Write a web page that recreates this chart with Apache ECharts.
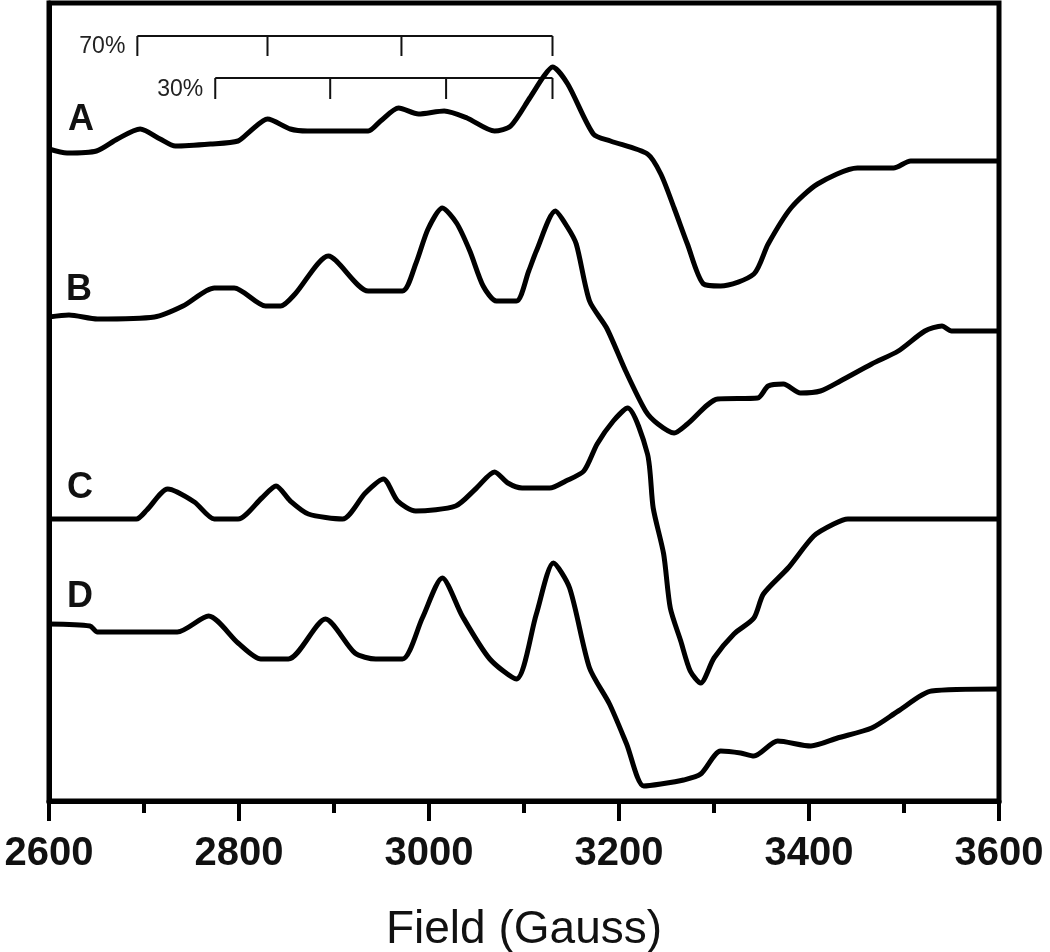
<!DOCTYPE html>
<html>
<head>
<meta charset="utf-8">
<script src="https://cdn.jsdelivr.net/npm/echarts@6/dist/echarts.min.js"></script>
<style>
html,body{margin:0;padding:0;background:#fff;}
#chart{width:1050px;height:952px;}
</style>
</head>
<body>
<div id="chart"></div>
<script>
// Field values (Gauss) and relative intensities (arbitrary units, offset per trace)
const traceA = [[2600,652],[2619,648],[2650,650],[2672,662],[2696,672],[2717,662],[2733,655],[2770,657],[2799,660],[2812,670],[2830,682],[2854,672],[2872,670],[2936,670],[2949,680],[2968,693],[2989,687],[3016,690],[3040,683],[3069,670],[3086,675],[3106,703],[3121,725],[3130,734],[3146,717],[3173,667],[3191,660],[3230,647],[3244,627],[3258,593],[3272,557],[3289,517],[3307,515],[3342,527],[3357,557],[3381,593],[3409,617],[3451,633],[3489,633],[3507,640],[3600,640]];
const traceB = [[2600,484],[2621,486],[2651,482],[2711,484],[2741,495],[2774,513],[2795,513],[2828,495],[2844,495],[2859,507],[2894,545],[2936,510],[2972,510],[2986,537],[2999,572],[3014,593],[3029,578],[3043,550],[3057,515],[3071,500],[3092,500],[3105,530],[3113,550],[3133,590],[3145,575],[3155,557],[3169,500],[3187,473],[3207,430],[3228,390],[3241,377],[3258,368],[3272,377],[3304,402],[3346,403],[3357,415],[3373,417],[3391,408],[3412,410],[3433,420],[3466,437],[3494,450],[3522,470],[3540,475],[3550,470],[3600,470]];
const traceC = [[2600,282],[2692,282],[2703,291],[2725,312],[2753,299],[2774,282],[2799,282],[2824,303],[2839,315],[2854,300],[2873,287],[2909,282],[2933,308],[2952,322],[2967,300],[2986,290],[3028,295],[3049,312],[3069,329],[3083,318],[3098,313],[3127,313],[3144,320],[3163,330],[3177,357],[3194,380],[3209,393],[3230,347],[3236,293],[3247,247],[3254,193],[3265,160],[3275,130],[3286,118],[3300,143],[3321,167],[3342,183],[3352,207],[3378,233],[3405,265],[3426,277],[3441,282],[3600,282]];
const traceD = [[2600,177],[2643,175],[2651,169],[2735,169],[2768,185],[2799,158],[2823,142],[2852,142],[2891,182],[2922,148],[2944,142],[2972,142],[2993,183],[3014,223],[3035,185],[3064,142],[3092,122],[3113,187],[3131,238],[3148,213],[3169,133],[3190,97],[3208,57],[3226,15],[3244,17],[3268,21],[3286,27],[3307,50],[3328,48],[3342,45],[3367,60],[3402,55],[3430,63],[3466,73],[3494,90],[3529,110],[3600,112]];
const traceNames = ['A','B','C','D'];

// Hyperfine splitting stick diagrams
const bracket70 = [2693, 2830, 2971, 3130];
const bracket30 = [2775, 2896, 3018, 3130];
const bracketLabels = ['70%', '30%'];
const bracketTop = [765, 723];
const bracketBottom = [745, 702];

const xTicks = [2600, 2800, 3000, 3200, 3400, 3600];
const xName = 'Field (Gauss)';

function bracketData(pos, top, bottom) {
  const d = [[pos[0], top], [pos[pos.length-1], top], null];
  pos.forEach(p => { d.push([p, top], [p, bottom], null); });
  return d;
}

const FONT = '"Liberation Sans", Arial, sans-serif';
const chart = echarts.init(document.getElementById('chart'), null, {renderer: 'canvas'});

const lineSeries = [traceA, traceB, traceC, traceD].map((d, i) => ({
  name: traceNames[i], type: 'line', data: d, symbol: 'none', smooth: 0.25,
  lineStyle: {color: '#000', width: 5}, animation: false, z: 3
}));
const brSeries = [bracket70, bracket30].map((p, i) => ({
  name: bracketLabels[i], type: 'line', data: bracketData(p, bracketTop[i], bracketBottom[i]),
  symbol: 'none', connectNulls: false, lineStyle: {color: '#111', width: 2}, animation: false, z: 2
}));

chart.setOption({
  backgroundColor: '#fff',
  animation: false,
  grid: {left: 49, right: 51, top: 3, bottom: 151, show: true, borderColor: '#000', borderWidth: 5,
    outerBoundsMode: 'none', containLabel: false},
  xAxis: {
    type: 'value', min: xTicks[0], max: xTicks[xTicks.length-1], interval: 200,
    name: xName, nameLocation: 'middle', nameGap: 106,
    nameTextStyle: {fontFamily: FONT, fontSize: 46, color: '#111'},
    axisLine: {lineStyle: {color: '#000', width: 5}},
    axisTick: {length: 20, lineStyle: {color: '#000', width: 4}},
    minorTick: {show: true, splitNumber: 2, length: 12, lineStyle: {color: '#000', width: 4}},
    splitLine: {show: false},
    axisLabel: {fontFamily: FONT, fontSize: 40, fontWeight: 'bold', color: '#111', margin: 33,
      formatter: v => String(v)}
  },
  yAxis: {
    type: 'value', min: 0, max: 798,
    axisLine: {show: true, lineStyle: {color: '#000', width: 5}},
    axisTick: {show: false}, axisLabel: {show: false}, splitLine: {show: false}
  },
  series: lineSeries.concat(brSeries)
});

// text annotations
const labelPix = [[81,120],[79,290],[80,488],[80,597]];
const g = traceNames.map((t, i) => ({
  type: 'text', x: labelPix[i][0], y: labelPix[i][1],
  style: {text: t, font: 'bold 36px ' + FONT, fill: '#111', align: 'center', verticalAlign: 'middle'}
}));
[bracket70, bracket30].forEach((p, i) => {
  const px = chart.convertToPixel({gridIndex: 0}, [p[0], (bracketTop[i] + bracketBottom[i]) / 2]);
  g.push({type: 'text', x: px[0] - 12, y: px[1] + 1,
    style: {text: bracketLabels[i], font: '23px ' + FONT, fill: '#222', align: 'right', verticalAlign: 'middle'}});
});
chart.setOption({graphic: g});
</script>
</body>
</html>
